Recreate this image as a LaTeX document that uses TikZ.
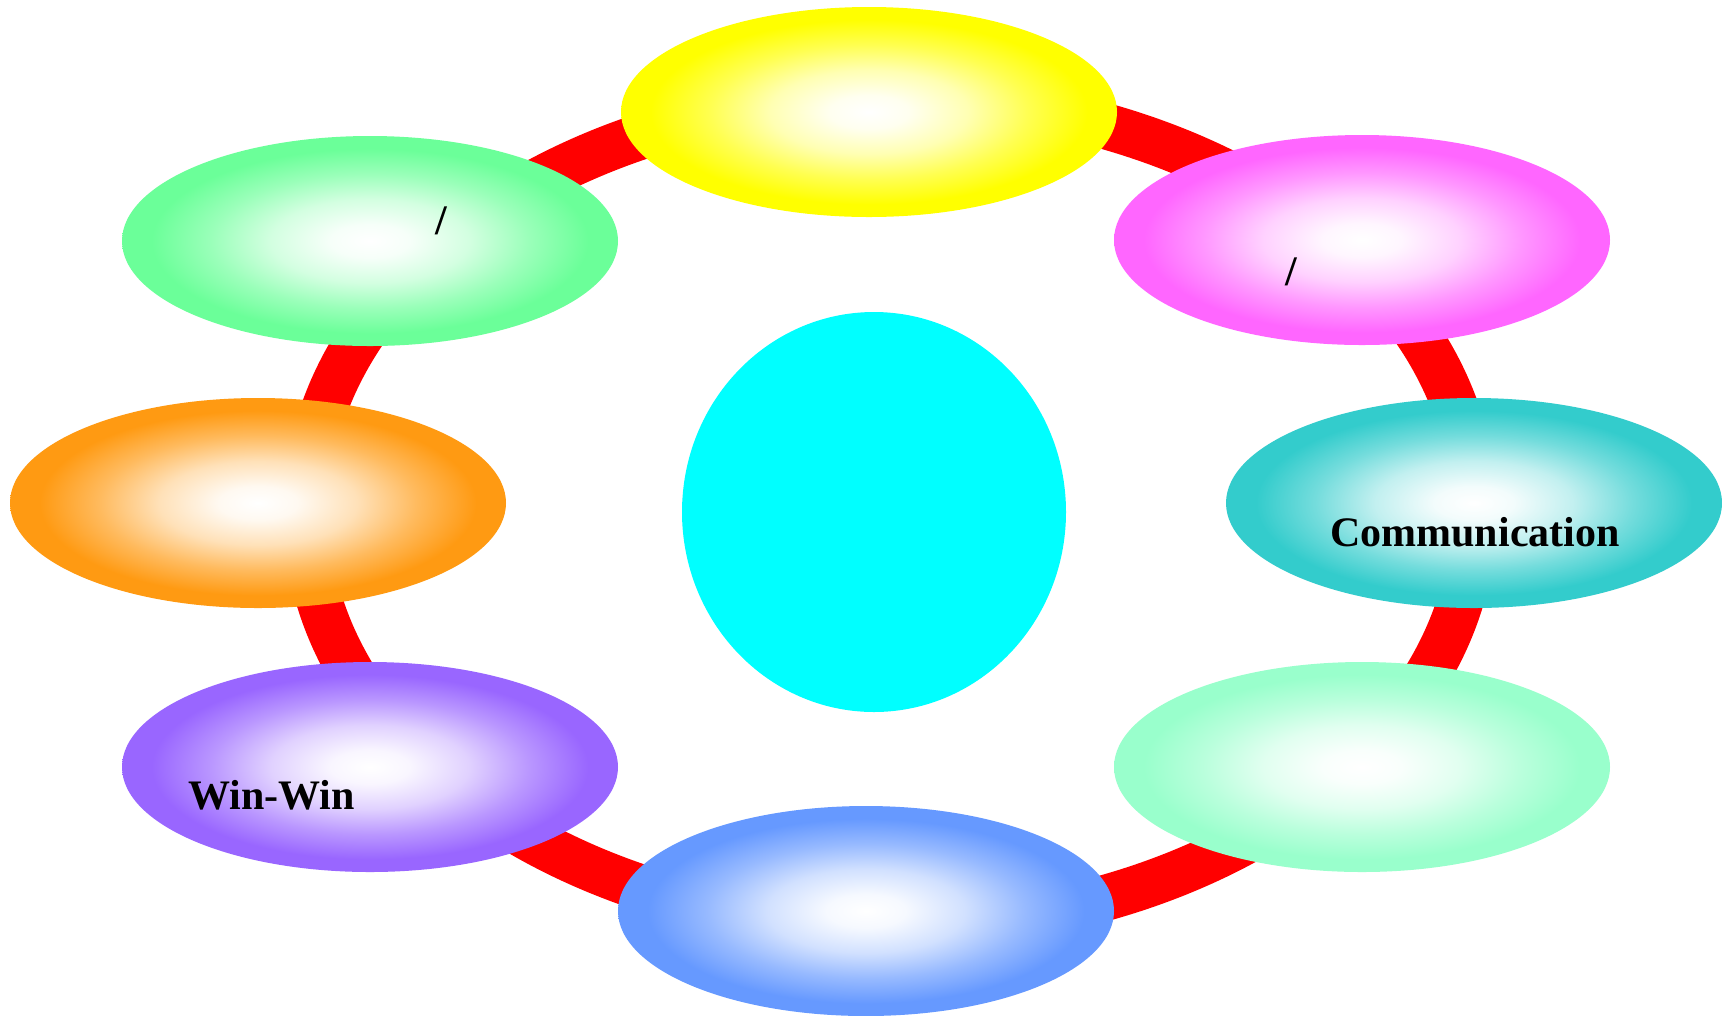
\documentclass[tikz,border=0pt]{standalone}
\usepackage{fontspec}
\setmainfont{Liberation Serif}
\usetikzlibrary{shapes.geometric}
\definecolor{cYellow}{HTML}{FFFF00}
\definecolor{cGreen}{HTML}{6BFF99}
\definecolor{cMagenta}{HTML}{FF66FF}
\definecolor{cTeal}{HTML}{33CCCC}
\definecolor{cOrange}{HTML}{FF9A12}
\definecolor{cPurple}{HTML}{9966FF}
\definecolor{cMint}{HTML}{99FFCC}
\definecolor{cBlue}{HTML}{6699FF}
\definecolor{cCyan}{HTML}{00FFFF}
\definecolor{cRing}{HTML}{FF0000}
\newcommand{\mkshade}[2]{%
  \pgfdeclareradialshading{#1}{\pgfpoint{0bp}{0bp}}{color(0bp)=(white); color(4bp)=(#2!6!white); color(10bp)=(#2!30!white); color(16bp)=(#2!68!white); color(22bp)=(#2); color(50bp)=(#2)}}
\mkshade{shYellow}{cYellow}
\mkshade{shGreen}{cGreen}
\mkshade{shMagenta}{cMagenta}
\mkshade{shTeal}{cTeal}
\mkshade{shOrange}{cOrange}
\mkshade{shPurple}{cPurple}
\mkshade{shMint}{cMint}
\mkshade{shBlue}{cBlue}
\tikzset{
  petal/.style={ellipse, inner sep=0pt, outer sep=0pt, minimum width=372pt, minimum height=157.5pt},
  hub/.style={ellipse, inner sep=0pt, outer sep=0pt, fill=cCyan, minimum width=288pt, minimum height=300pt},
  ringline/.style={draw=cRing, line width=34.5pt},
  lbl/.style={inner sep=0pt, font=\bfseries\fontsize{31.5}{36}\selectfont, text=black}
}
\begin{document}
\begin{tikzpicture}[x=0.75pt, y=-0.75pt]
\useasboundingbox (0,0) rectangle (1730,1015);
\fill[white] (0,0) rectangle (1730,1015);
% ring
\coordinate (rc) at (890,512);
\draw[ringline] (rc) ellipse [x radius=438pt, y radius=311.25pt];
% petals
\node[petal, shading=shYellow]  (eTop)    at (869,112) {};
\node[petal, shading=shGreen]   (eTL)     at (370,241) {};
\node[petal, shading=shMagenta] (eTR)     at (1362,240) {};
\node[petal, shading=shOrange]  (eL)      at (258,503) {};
\node[petal, shading=shTeal]    (eR)      at (1474,503) {};
\node[petal, shading=shPurple]  (eBL)     at (370,767) {};
\node[petal, shading=shMint]    (eBR)     at (1362,767) {};
\node[petal, shading=shBlue]    (eBot)    at (866,911) {};
% hub
\node[hub] (hubc) at (874,512) {};
% labels
\node[lbl, anchor=base] (tTL) at (441,234) {/};
\node[lbl, anchor=base] (tTR) at (1291,285) {/};
\node[lbl, anchor=base] (tR) at (1475,546) {Communication};
\node[lbl, anchor=base west] (tBL) at (188,809) {Win-Win};
\end{tikzpicture}
\end{document}
